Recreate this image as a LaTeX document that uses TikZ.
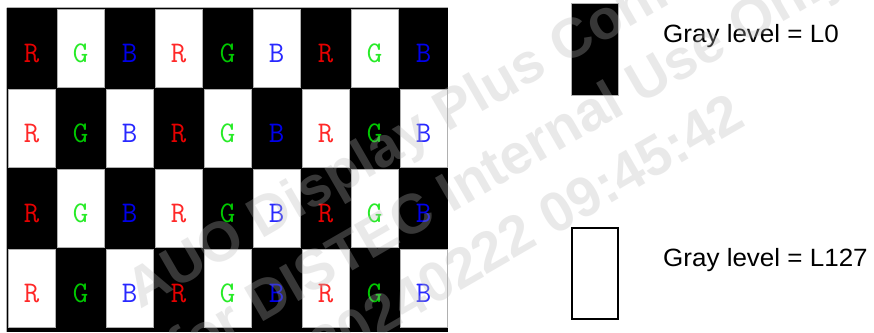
\documentclass[tikz,border=0pt]{standalone}
\usepackage{fontspec}
\newfontfamily\legfont{Liberation Sans}
\definecolor{rW}{RGB}{255,40,40}
\definecolor{rB}{RGB}{230,0,0}
\definecolor{gW}{RGB}{40,235,40}
\definecolor{gB}{RGB}{0,200,0}
\definecolor{bW}{RGB}{40,40,255}
\definecolor{bB}{RGB}{0,0,235}
\definecolor{cellgray}{RGB}{176,176,176}
\definecolor{wmgray}{RGB}{184,184,184}
\tikzset{
  cellline/.style={draw=cellgray, line width=1pt},
  letter/.style={inner sep=0pt, anchor=base, font=\ttfamily\fontsize{30}{30}\selectfont},
  legtext/.style={inner sep=0pt, anchor=base west, font=\legfont\fontsize{25}{28}\selectfont, xscale=1.04},
  legblack/.style={draw=cellgray, line width=0.6pt, fill=black, minimum width=47pt, minimum height=92pt, inner sep=0pt},
  legwhite/.style={draw=black, line width=1.3pt, fill=white, minimum width=46pt, minimum height=91pt, inner sep=0pt},
  wm/.style={inner sep=0pt, anchor=base west, rotate=30, text=wmgray, font=\legfont\bfseries\fontsize{56}{60}\selectfont},
}
\begin{document}
\begin{tikzpicture}[x=1pt,y=-1pt]
\useasboundingbox (0,0) rectangle (874,332);
\fill[white] (0,0) rectangle (874,332);
% grid background
\fill[black] (7,8) rectangle (448,332);
\draw[cellline] (6.5,7.5) -- (448,7.5);
\draw[cellline] (6.5,7.5) -- (6.5,332);
\foreach \r in {0,...,3} {
  \foreach \c in {0,...,8} {
    \pgfmathsetmacro\xo{7+49*\c}
    \pgfmathsetmacro\yo{8+80*\r}
    \pgfmathtruncatemacro\odd{mod(\r+\c,2)}
    \pgfmathtruncatemacro\k{mod(\c,3)}
    \ifnum\odd=1
      \draw[cellline, fill=white] (\xo+1,\yo+1) rectangle (\xo+48,\yo+79);
    \fi
    \edef\col{\ifcase\k r\or g\or b\fi\ifnum\odd=1 W\else B\fi}
    \edef\lt{\ifcase\k R\or G\or B\fi}
    \node[letter, text=\col] (L-\r-\c) at (\xo+24.5,\yo+54.5) {\lt};
  }
}
% legend
\node[legblack] (k0) at (594.5,49) {};
\node[legwhite] (k1) at (595,273.5) {};
\node[legtext] (t0) at (663,42) {Gray level = L0};
\node[legtext] (t1) at (663,266) {Gray level = L127};
% watermark
\begin{scope}[opacity=0.3]
\node[wm] (w1) at (140,310) {AUO Display Plus Confidential};
\node[wm] (w2) at (182,369) {for DISTEC Internal Use Only};
\node[wm] (w3) at (324,369) {20240222 09:45:42};
\end{scope}
\end{tikzpicture}
\end{document}
